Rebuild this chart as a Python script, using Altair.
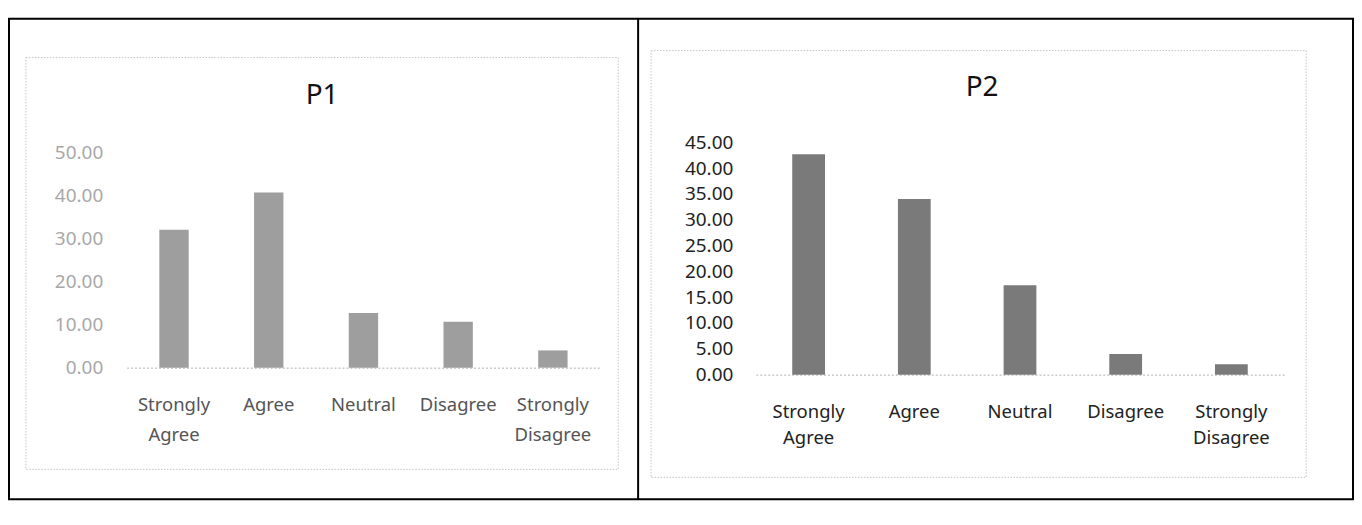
import altair as alt
import pandas as pd

categories = ["Strongly Agree", "Agree", "Neutral", "Disagree", "Strongly Disagree"]
p1_values = [32.00, 40.67, 12.67, 10.67, 4.00]
p2_values = [42.67, 34.00, 17.33, 4.00, 2.00]
p1_ticks = [0, 10, 20, 30, 40, 50]
p2_ticks = [0, 5, 10, 15, 20, 25, 30, 35, 40, 45]
titles = ["P1", "P2"]

FONT = "Noto Sans"

df1 = pd.DataFrame({"cat": categories, "val": p1_values})
df2 = pd.DataFrame({"cat": categories, "val": p2_values})


def one():
    return alt.Data(values=[{"k": 1}])


def xaxis(line_height, color):
    return alt.Axis(
        title=None, labelAngle=0, labelExpr="split(datum.label, ' ')",
        labelFont=FONT, labelFontSize=18.5, labelColor=color,
        labelLineHeight=line_height, labelPadding=28, ticks=False, tickSize=0,
        domain=True, domainColor="#b0b0b0", domainDash=[2, 2], domainWidth=1,
        labelOverlap=False, grid=False,
    )


def yaxis(values, color, pad):
    return alt.Axis(
        title=None, values=values, format=".2f", labelFont=FONT,
        labelFontSize=19, labelColor=color, labelPadding=pad,
        ticks=False, tickSize=0, domain=False, grid=False,
    )


def box(x0, x1, y0, y1):
    return alt.Chart(one()).mark_rect(
        filled=False, stroke="#c4c4c4", strokeDash=[1.5, 1.5], strokeWidth=1
    ).encode(x=alt.value(x0), x2=alt.value(x1), y=alt.value(y0), y2=alt.value(y1))


def title_mark(text, x, y):
    return alt.Chart(one()).mark_text(
        text=text, font=FONT, fontSize=28, color="#111111",
        align="center", baseline="middle",
    ).encode(x=alt.value(x), y=alt.value(y))


# Panel 1
bars1 = alt.Chart(df1).mark_bar(color="#9e9e9e").encode(
    x=alt.X("cat:N", sort=categories,
            scale=alt.Scale(paddingInner=0.69, paddingOuter=0.345),
            axis=xaxis(30, "#555555")),
    y=alt.Y("val:Q", scale=alt.Scale(domain=[0, 52.31], nice=False, zero=True),
            axis=yaxis(p1_ticks, "#a8a8a8", 24)),
)
frame = alt.Chart(one()).mark_rect(
    filled=False, stroke="#000000", strokeWidth=2
).encode(x=alt.value(-118), x2=alt.value(1230), y=alt.value(-124), y2=alt.value(358))
divider = alt.Chart(one()).mark_rule(color="#000000", strokeWidth=2).encode(
    x=alt.value(513), y=alt.value(-124), y2=alt.value(358))

p1 = alt.layer(frame, divider, box(-101, 493, -85, 328), bars1,
               title_mark(titles[0], 196, -46)).properties(width=475, height=226)

# Panel 2
bars2 = alt.Chart(df2).mark_bar(color="#7a7a7a").encode(
    x=alt.X("cat:N", sort=categories,
            scale=alt.Scale(paddingInner=0.69, paddingOuter=0.345),
            axis=xaxis(26, "#222222")),
    y=alt.Y("val:Q", scale=alt.Scale(domain=[0, 45], nice=False, zero=True),
            axis=yaxis(p2_ticks, "#222222", 23)),
)
p2 = alt.layer(box(-105, 552, -92, 336), bars2,
               title_mark(titles[1], 227, -54)).properties(width=530, height=233)

chart = alt.hconcat(p1, p2, spacing=156, bounds="flush").properties(
    padding={"left": 0, "top": 9, "right": 0, "bottom": 0}
).configure_view(stroke=None)

chart.save("out.html", embed_options={"renderer": "svg", "actions": False})
